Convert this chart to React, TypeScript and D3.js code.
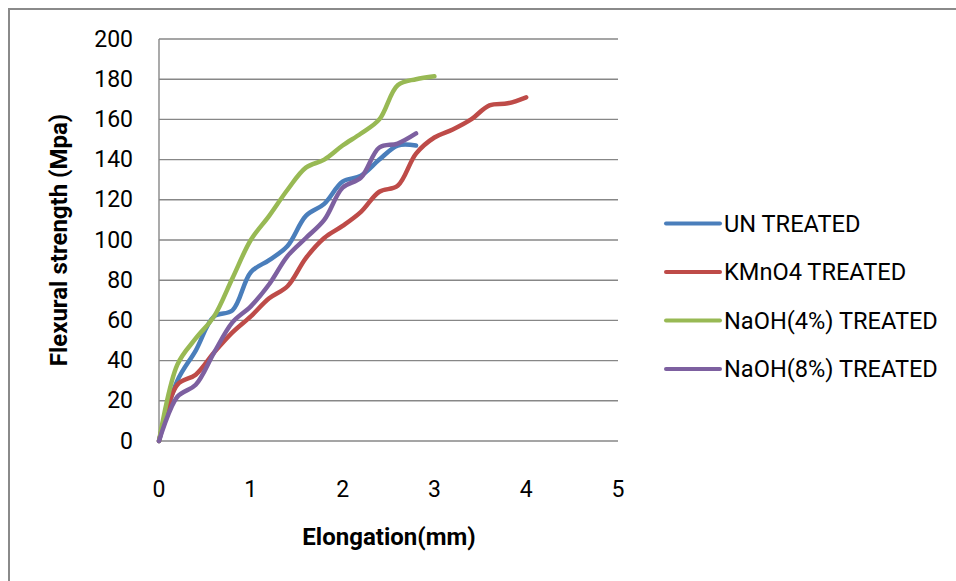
import React from "react";
import * as d3 from "d3";

const xUntreated = [0, 0.2, 0.4, 0.6, 0.8, 1.0, 1.2, 1.4, 1.6, 1.8, 2.0, 2.2, 2.4, 2.6, 2.8];
const yUntreated = [0, 30, 45, 62, 65, 84, 90, 97, 112, 118, 129, 132, 140, 147, 147];

const xKmno4 = [0, 0.2, 0.4, 0.6, 0.8, 1.0, 1.2, 1.4, 1.6, 1.8, 2.0, 2.2, 2.4, 2.6, 2.8, 3.0, 3.2, 3.4, 3.6, 3.8, 4.0];
const yKmno4 = [0, 28, 33, 44, 54, 62, 71, 77, 91, 101, 107, 114, 124, 127, 143, 151, 155, 160, 167, 168, 171];

const xNaoh4 = [0, 0.2, 0.4, 0.6, 0.8, 1.0, 1.2, 1.4, 1.6, 1.8, 2.0, 2.2, 2.4, 2.6, 2.8, 3.0];
const yNaoh4 = [0, 38, 51, 62, 81, 100, 112, 125, 136, 140, 147, 153, 160, 177, 180, 181.5];

const xNaoh8 = [0, 0.2, 0.4, 0.6, 0.8, 1.0, 1.2, 1.4, 1.6, 1.8, 2.0, 2.2, 2.4, 2.6, 2.8];
const yNaoh8 = [0, 22, 28, 44, 59, 67, 78, 92, 101, 110, 126, 131, 146, 148, 153];

const seriesNames = ["UN TREATED", "KMnO4 TREATED", "NaOH(4%) TREATED", "NaOH(8%) TREATED"];
const seriesColors = ["#4A7EBB", "#BE4B48", "#98B954", "#7D60A0"];
const seriesX = [xUntreated, xKmno4, xNaoh4, xNaoh8];
const seriesY = [yUntreated, yKmno4, yNaoh4, yNaoh8];

const xTicks = [0, 1, 2, 3, 4, 5];
const yTicks = [0, 20, 40, 60, 80, 100, 120, 140, 160, 180, 200];

const xTitle = "Elongation(mm)";
const yTitle = "Flexural strength (Mpa)";

const FONT = "Roboto, 'Open Sans', sans-serif";

export default function App() {
  const W = 956;
  const H = 581;
  const plot = { left: 159, right: 618, top: 39, bottom: 441 };
  const x = d3.scaleLinear().domain([0, 5]).range([plot.left, plot.right]);
  const y = d3.scaleLinear().domain([0, 200]).range([plot.bottom, plot.top]);

  const line = d3
    .line<[number, number]>()
    .x((d) => x(d[0]))
    .y((d) => y(d[1]))
    .curve(d3.curveCatmullRom.alpha(0.5));

  const legendX1 = 666;
  const legendX2 = 720;
  const legendYs = [223.5, 272, 320.5, 369];

  return (
    <svg
      width={W}
      height={H}
      style={{ position: "absolute", left: 0, top: 0, background: "#fff" }}
      fontFamily={FONT}
    >
      <rect x={0} y={0} width={W} height={H} fill="#fff" />
      <rect x={9} y={9} width={W + 20} height={H + 20} fill="none" stroke="#8a8a8a" strokeWidth={2} />

      {yTicks.map((t) => (
        <line
          key={"g" + t}
          x1={plot.left}
          x2={plot.right}
          y1={y(t)}
          y2={y(t)}
          stroke="#878787"
          strokeWidth={1.4}
        />
      ))}
      <line x1={plot.left} x2={plot.left} y1={plot.top} y2={plot.bottom} stroke="#878787" strokeWidth={1.4} />

      {yTicks.map((t) => (
        <text
          key={"yl" + t}
          x={133}
          y={y(t)}
          textAnchor="end"
          dominantBaseline="central"
          fontSize={23}
          fill="#000"
        >
          {t}
        </text>
      ))}
      {xTicks.map((t) => (
        <text
          key={"xl" + t}
          x={x(t)}
          y={489}
          textAnchor="middle"
          dominantBaseline="central"
          fontSize={23}
          fill="#000"
        >
          {t}
        </text>
      ))}

      <text x={389} y={537} textAnchor="middle" dominantBaseline="central" fontSize={24} fontWeight="bold" fill="#000">
        {xTitle}
      </text>
      <text
        transform="translate(59,240) rotate(-90)"
        textAnchor="middle"
        dominantBaseline="central"
        fontSize={24}
        fontWeight="bold"
        fill="#000"
      >
        {yTitle}
      </text>

      {seriesX.map((xs, i) => {
        const pts: [number, number][] = xs.map((v, j) => [v, seriesY[i][j]]);
        return (
          <path
            key={"s" + i}
            d={line(pts) || ""}
            fill="none"
            stroke={seriesColors[i]}
            strokeWidth={4.5}
            strokeLinecap="round"
            strokeLinejoin="round"
          />
        );
      })}

      {seriesNames.map((name, i) => (
        <g key={"lg" + i}>
          <line
            x1={legendX1}
            x2={legendX2}
            y1={legendYs[i]}
            y2={legendYs[i]}
            stroke={seriesColors[i]}
            strokeWidth={4}
            strokeLinecap="round"
          />
          <text x={724} y={legendYs[i]} dominantBaseline="central" fontSize={23.6} fill="#000">
            {name}
          </text>
        </g>
      ))}
    </svg>
  );
}
